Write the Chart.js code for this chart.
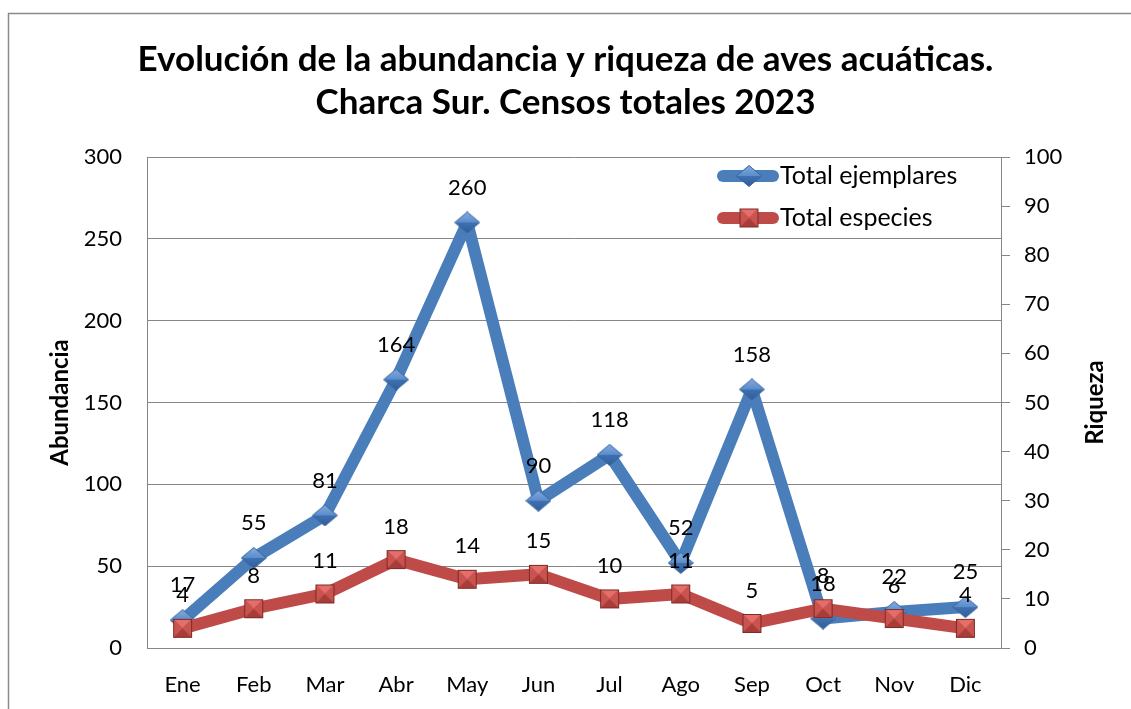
<!DOCTYPE html>
<html>
<head>
<meta charset="utf-8">
<script src="https://cdn.jsdelivr.net/npm/chart.js@4/dist/chart.umd.min.js"></script>
<style>
  html, body { margin: 0; padding: 0; background: #fff; }
  #wrap { position: relative; width: 1131px; height: 709px; }
</style>
</head>
<body>
<div id="wrap"><canvas id="c" width="1131" height="709"></canvas></div>
<script>
const months = ['Ene','Feb','Mar','Abr','May','Jun','Jul','Ago','Sep','Oct','Nov','Dic'];
const totalEjemplares = [17, 55, 81, 164, 260, 90, 118, 52, 158, 18, 22, 25];
const totalEspecies = [4, 8, 11, 18, 14, 15, 10, 11, 5, 8, 6, 4];
const abundanciaTicks = [0, 50, 100, 150, 200, 250, 300];
const riquezaTicks = [0, 10, 20, 30, 40, 50, 60, 70, 80, 90, 100];
const titleLines = ['Evolución de la abundancia y riqueza de aves acuáticas.', 'Charca Sur. Censos totales 2023'];
const seriesNames = ['Total ejemplares', 'Total especies'];

const FONT = 'Lato, "Noto Sans", sans-serif';
const GRID = '#868686';
const BLUE = '#4A7EBB';
const RED = '#BE4B48';

function makeDiamond() {
  const c = document.createElement('canvas');
  c.width = 26; c.height = 22;
  const g = c.getContext('2d');
  const cx = 13, cy = 11, hw = 12.5, hh = 10.5;
  g.beginPath(); g.moveTo(cx - hw, cy); g.lineTo(cx, cy - hh); g.lineTo(cx + hw, cy); g.closePath();
  const gt = g.createLinearGradient(0, 0, 0, cy);
  gt.addColorStop(0, '#86ADE0'); gt.addColorStop(1, '#5A8CCB');
  g.fillStyle = gt; g.fill();
  g.beginPath(); g.moveTo(cx - hw, cy); g.lineTo(cx, cy + hh); g.lineTo(cx + hw, cy); g.closePath();
  const gb = g.createLinearGradient(0, cy, 0, 22);
  gb.addColorStop(0, '#3F72B3'); gb.addColorStop(1, '#2F5C96');
  g.fillStyle = gb; g.fill();
  g.beginPath(); g.moveTo(cx - hw, cy); g.lineTo(cx, cy - hh); g.lineTo(cx + hw, cy); g.lineTo(cx, cy + hh); g.closePath();
  g.strokeStyle = '#3A669E'; g.lineWidth = 1; g.stroke();
  return c;
}
function makeSquare() {
  const c = document.createElement('canvas');
  c.width = 21; c.height = 21;
  const g = c.getContext('2d');
  g.fillStyle = '#A83C39'; g.fillRect(1, 1, 19, 19);
  g.beginPath(); g.moveTo(1, 1); g.lineTo(20, 1); g.lineTo(10.5, 10.5); g.closePath();
  g.fillStyle = '#E46E6A'; g.fill();
  g.beginPath(); g.moveTo(1, 1); g.lineTo(10.5, 10.5); g.lineTo(1, 20); g.closePath();
  g.fillStyle = '#C9534F'; g.fill();
  g.beginPath(); g.moveTo(20, 1); g.lineTo(10.5, 10.5); g.lineTo(20, 20); g.closePath();
  g.fillStyle = '#C9534F'; g.fill();
  g.strokeStyle = '#7E2A28'; g.lineWidth = 1; g.strokeRect(1.5, 1.5, 18, 18);
  return c;
}
const diamondImg = makeDiamond();
const squareImg = makeSquare();

const framePlugin = {
  id: 'frame',
  beforeDraw(chart) {
    const ctx = chart.ctx;
    ctx.save();
    ctx.strokeStyle = '#8a8a8a';
    ctx.lineWidth = 1.5;
    ctx.strokeRect(8.5, 13.5, 1200, 800);
    ctx.restore();
  }
};

const labelsPlugin = {
  id: 'valueLabels',
  afterDatasetsDraw(chart) {
    const ctx = chart.ctx;
    ctx.save();
    ctx.font = '22px ' + FONT;
    ctx.fillStyle = '#000';
    ctx.textAlign = 'center';
    ctx.textBaseline = 'middle';
    [0, 1].forEach(di => {
      const meta = chart.getDatasetMeta(di);
      const vals = chart.data.datasets[di].data;
      const off = di === 0 ? 35 : 33;
      meta.data.forEach((pt, i) => {
        ctx.fillText(String(vals[i]), pt.x, pt.y - off);
      });
    });
    // legend
    const items = [
      { name: seriesNames[0], color: BLUE, img: diamondImg, y: 176 },
      { name: seriesNames[1], color: RED, img: squareImg, y: 218 }
    ];
    ctx.font = '25px ' + FONT;
    items.forEach(it => {
      ctx.beginPath();
      ctx.lineCap = 'round';
      ctx.lineWidth = 12;
      ctx.strokeStyle = it.color;
      ctx.moveTo(723, it.y); ctx.lineTo(773, it.y);
      ctx.stroke();
      ctx.drawImage(it.img, 749 - it.img.width / 2, it.y - it.img.height / 2);
      ctx.textAlign = 'left';
      ctx.fillStyle = '#000';
      ctx.fillText(it.name, 780, it.y);
    });
    // right axis title (reads bottom-to-top)
    const ca = chart.chartArea;
    ctx.translate(1095, (ca.top + ca.bottom) / 2);
    ctx.rotate(-Math.PI / 2);
    ctx.font = 'bold 24px ' + FONT;
    ctx.textAlign = 'center';
    ctx.fillText('Riqueza', 0, 0);
    ctx.restore();
  }
};

new Chart(document.getElementById('c'), {
  type: 'line',
  data: {
    labels: months,
    datasets: [
      {
        label: seriesNames[0],
        data: totalEjemplares,
        yAxisID: 'y',
        borderColor: BLUE,
        backgroundColor: BLUE,
        borderWidth: 12,
        borderJoinStyle: 'round',
        borderCapStyle: 'round',
        pointStyle: diamondImg,
        pointRadius: 12,
        pointHoverRadius: 12,
        tension: 0,
        order: 1
      },
      {
        label: seriesNames[1],
        data: totalEspecies,
        yAxisID: 'y2',
        borderColor: RED,
        backgroundColor: RED,
        borderWidth: 12,
        borderJoinStyle: 'round',
        borderCapStyle: 'round',
        pointStyle: squareImg,
        pointRadius: 11,
        pointHoverRadius: 11,
        tension: 0,
        order: 0
      }
    ]
  },
  options: {
    responsive: false,
    animation: false,
    layout: { padding: 0 },
    plugins: {
      legend: { display: false },
      tooltip: { enabled: false },
      title: {
        display: true,
        text: titleLines,
        color: '#000',
        font: { family: FONT, size: 35, weight: 'bold', lineHeight: 1.23 },
        padding: { top: 38.5, bottom: 32.4 }
      }
    },
    scales: {
      x: {
        type: 'category',
        offset: true,
        grid: { display: false, drawTicks: false },
        border: { display: true, color: GRID, width: 1 },
        ticks: { color: '#000', padding: 24, font: { family: FONT, size: 22 } },
        afterFit(s) { s.height = 61; }
      },
      y: {
        position: 'left',
        min: 0, max: 300,
        afterBuildTicks(s) { s.ticks = abundanciaTicks.map(v => ({ value: v })); },
        grid: { color: GRID, lineWidth: 1, drawTicks: false },
        border: { display: true, color: GRID, width: 1 },
        ticks: { color: '#000', padding: 25, font: { family: FONT, size: 22 } },
        title: {
          display: true, text: 'Abundancia', color: '#000',
          font: { family: FONT, size: 24, weight: 'bold' },
          padding: { top: 45.6, bottom: 0 }
        },
        afterFit(s) { s.width = 147; }
      },
      y2: {
        position: 'right',
        min: 0, max: 100,
        afterBuildTicks(s) { s.ticks = riquezaTicks.map(v => ({ value: v })); },
        grid: { drawOnChartArea: false, color: GRID, drawTicks: true, tickLength: 9 },
        border: { display: true, color: GRID, width: 1 },
        ticks: { color: '#000', padding: 14, font: { family: FONT, size: 22 } },
        afterFit(s) { s.width = 130; }
      }
    }
  },
  plugins: [framePlugin, labelsPlugin]
});
</script>
</body>
</html>
